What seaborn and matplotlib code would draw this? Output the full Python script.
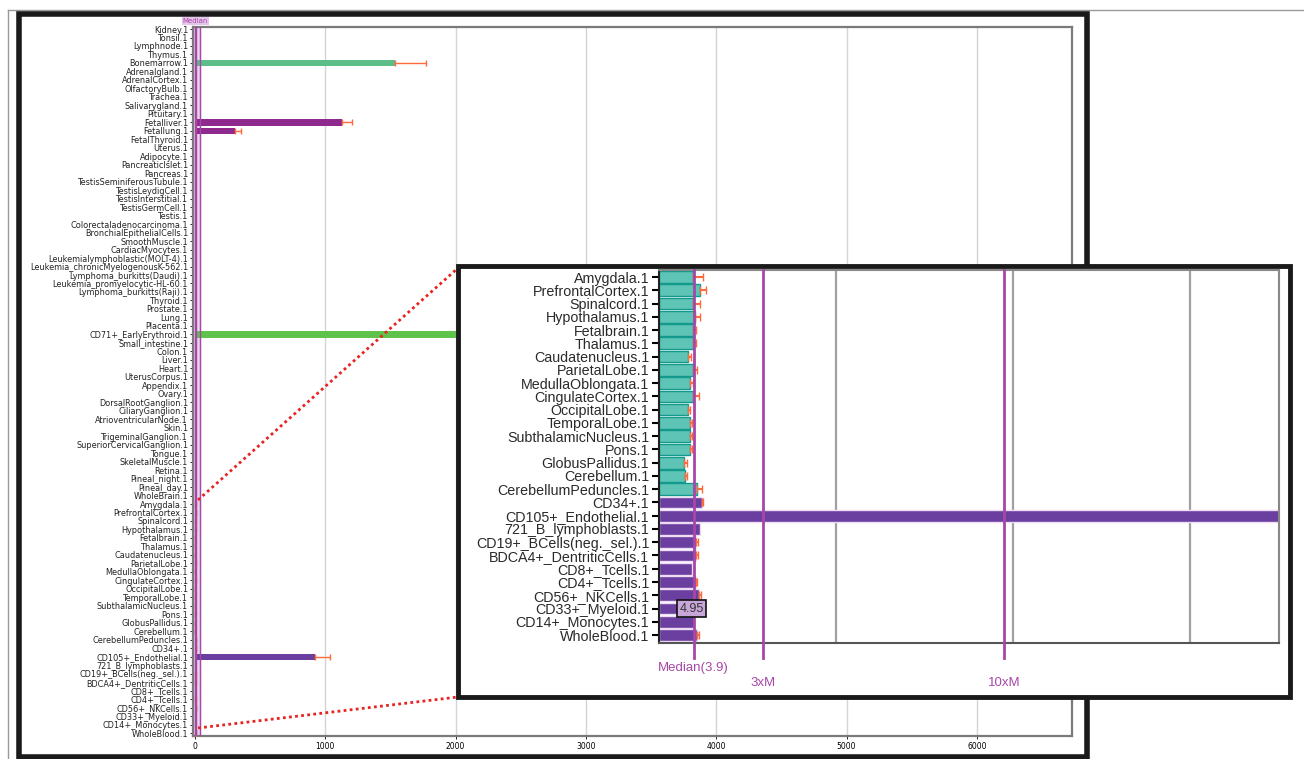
import numpy as np
import pandas as pd
import matplotlib
matplotlib.use("Agg")
import matplotlib.pyplot as plt
import matplotlib.transforms as mtransforms
from matplotlib.patches import Rectangle
from matplotlib.lines import Line2D
import seaborn as sns

# tissues, top to bottom
tissues = [
    "Kidney.1", "Tonsil.1", "Lymphnode.1", "Thymus.1", "Bonemarrow.1", "Adrenalgland.1",
    "AdrenalCortex.1", "OlfactoryBulb.1", "Trachea.1", "Salivarygland.1", "Pituitary.1",
    "Fetalliver.1", "Fetallung.1", "FetalThyroid.1", "Uterus.1", "Adipocyte.1",
    "PancreaticIslet.1", "Pancreas.1", "TestisSeminiferousTubule.1", "TestisLeydigCell.1",
    "TestisInterstitial.1", "TestisGermCell.1", "Testis.1", "Colorectaladenocarcinoma.1",
    "BronchialEpithelialCells.1", "SmoothMuscle.1", "CardiacMyocytes.1",
    "Leukemialymphoblastic(MOLT-4).1", "Leukemia_chronicMyelogenousK-562.1",
    "Lymphoma_burkitts(Daudi).1", "Leukemia_promyelocytic-HL-60.1", "Lymphoma_burkitts(Raji).1",
    "Thyroid.1", "Prostate.1", "Lung.1", "Placenta.1", "CD71+_EarlyErythroid.1",
    "Small_intestine.1", "Colon.1", "Liver.1", "Heart.1", "UterusCorpus.1", "Appendix.1",
    "Ovary.1", "DorsalRootGanglion.1", "CiliaryGanglion.1", "AtrioventricularNode.1", "Skin.1",
    "TrigeminalGanglion.1", "SuperiorCervicalGanglion.1", "Tongue.1", "SkeletalMuscle.1",
    "Retina.1", "Pineal_night.1", "Pineal_day.1", "WholeBrain.1",
    "Amygdala.1", "PrefrontalCortex.1", "Spinalcord.1", "Hypothalamus.1", "Fetalbrain.1",
    "Thalamus.1", "Caudatenucleus.1", "ParietalLobe.1", "MedullaOblongata.1",
    "CingulateCortex.1", "OccipitalLobe.1", "TemporalLobe.1", "SubthalamicNucleus.1",
    "Pons.1", "GlobusPallidus.1", "Cerebellum.1", "CerebellumPeduncles.1",
    "CD34+.1", "CD105+_Endothelial.1", "721_B_lymphoblasts.1", "CD19+_BCells(neg._sel.).1",
    "BDCA4+_DentriticCells.1", "CD8+_Tcells.1", "CD4+_Tcells.1", "CD56+_NKCells.1",
    "CD33+_Myeloid.1", "CD14+_Monocytes.1", "WholeBlood.1",
]

values = [
    3.6, 3.9, 3.7, 3.4, 1535, 3.5,
    3.3, 3.8, 3.6, 3.4, 3.7,
    1130, 305, 3.5, 3.6, 3.2,
    3.4, 3.3, 3.1, 3.5,
    3.3, 3.2, 3.6, 3.8,
    3.7, 3.5, 3.4,
    4.1, 4.3,
    3.9, 4.0, 3.8,
    3.5, 3.6, 3.7, 3.9, 4200,
    3.6, 3.5, 3.4, 3.3, 3.6, 3.7,
    3.5, 3.8, 3.6, 3.4, 3.5,
    3.7, 3.9, 3.6, 3.3,
    3.8, 3.5, 3.6, 3.9,
    3.88, 4.63, 3.88, 4.07, 3.80,
    3.80, 3.31, 3.88, 3.50,
    3.84, 3.24, 3.50, 3.50,
    3.50, 2.82, 2.94, 4.26,
    4.82, 920, 4.63, 4.18,
    4.18, 3.69, 4.18, 4.56,
    4.95, 4.00, 4.26,
]

errors = [0.0] * 56 + [
    1.1, 0.7, 0.8, 0.55, 0.35,
    0.35, 0.3, 0.4, 0.3,
    0.7, 0.3, 0.25, 0.2,
    0.25, 0.3, 0.25, 0.6,
    0.2, 120, 0.0, 0.2,
    0.2, 0.0, 0.15, 0.15,
    0.0, 0.0, 0.3,
]
errors[4] = 240
errors[11] = 75
errors[12] = 45

groups = (["other"] * 4 + ["marrow"] + ["other"] * 6 + ["fetal", "fetal"] + ["other"] * 23
          + ["erythroid"] + ["other"] * 19 + ["brain"] * 17 + ["blood"] * 11)

palette = {"other": "#9c9c9c", "marrow": "#5dbd88", "fetal": "#8e2a8e",
           "erythroid": "#5fc24a", "brain": "#5ec4b6", "blood": "#6a3fa0"}
edges = {"brain": "#139a8c", "blood": "#eedcf2"}

median = 3.9
thresholds = [median, 3 * median, 10 * median]
inset_start = tissues.index("Amygdala.1")

df = pd.DataFrame({"tissue": tissues, "value": values, "err": errors, "group": groups})

purple = "#a846a8"
err_col = "#ff6a3d"

fig = plt.figure(figsize=(13.04, 7.59), dpi=100)

# outer decorations
fig.add_artist(Line2D([8 / 1304, 1], [1 - 10 / 759] * 2, color="#999999", lw=1, zorder=0.5))
fig.add_artist(Line2D([8 / 1304] * 2, [0, 1 - 10 / 759], color="#999999", lw=1, zorder=0.5))
fig.add_artist(Rectangle((19 / 1304, 2 / 759), 1068 / 1304, 743 / 759, fill=False,
                         ec="#1a1a1a", lw=4, zorder=0.8))

# ---- main chart
ax = fig.add_axes([193 / 1304, 1 - 736 / 759, 879 / 1304, 709 / 759])
sns.barplot(data=df, x="value", y="tissue", hue="group", palette=palette, dodge=False,
            legend=False, width=0.75, errorbar=None, saturation=1, ax=ax, zorder=2)
pos = np.arange(len(tissues))
mask = df["err"].to_numpy() > 0
ax.errorbar(df["value"][mask], pos[mask], xerr=[np.zeros(mask.sum()), df["err"][mask]],
            fmt="none", ecolor=err_col, elinewidth=1, capsize=2, zorder=3)
ax.axvspan(-15, thresholds[-1], color="#d9b8e0", alpha=0.6, zorder=1)
for t in thresholds:
    ax.axvline(t, color=purple, lw=1, zorder=4)
ax.set_xlim(-15, 6730)
ax.set_ylim(83.35, -0.24)
ax.set_xticks(range(0, 7000, 1000))
ax.grid(axis="x", color="#d4d4d4", lw=1)
ax.set_axisbelow(True)
ax.set_xlabel("")
ax.set_ylabel("")
ax.tick_params(axis="y", labelsize=5.9, length=2.5, width=0.6, pad=1, labelcolor="#222222")
ax.tick_params(axis="x", labelsize=5.5, length=2, width=0.6, pad=2)
for s in ax.spines.values():
    s.set_color("#7a7a7a")
    s.set_linewidth(1.6)
ax.text(median, 1.004, "Median", transform=mtransforms.blended_transform_factory(ax.transData, ax.transAxes),
        ha="center", va="bottom", fontsize=5, color=purple,
        bbox=dict(boxstyle="square,pad=0.15", fc="#e3c6ea", ec="none"))

# ---- zoom lines
red = "#e8231f"
fig.add_artist(Line2D([198 / 1304, 458 / 1304], [1 - 500 / 759, 1 - 268 / 759],
                      color=red, ls=(0, (1, 1.2)), lw=2, zorder=1.2))
fig.add_artist(Line2D([198 / 1304, 458 / 1304], [1 - 728 / 759, 1 - 697 / 759],
                      color=red, ls=(0, (1, 1.2)), lw=2, zorder=1.2))

# ---- inset
fig.add_artist(Rectangle((458 / 1304, 1 - 697 / 759), 832 / 1304, 431 / 759,
                         fc="white", ec="#1a1a1a", lw=3.5, zorder=1.5))
sub = df.iloc[inset_start:].reset_index(drop=True)
ax2 = fig.add_axes([659 / 1304, 1 - 643 / 759, 620 / 1304, 373 / 759], zorder=3)
sns.barplot(data=sub, x="value", y="tissue", hue="group", palette=palette, dodge=False,
            legend=False, width=0.88, errorbar=None, saturation=1, ax=ax2, zorder=2)
for patch in ax2.patches:
    y_mid = patch.get_y() + patch.get_height() / 2
    g = sub["group"].iloc[int(round(y_mid))]
    patch.set_edgecolor(edges[g])
    patch.set_linewidth(1)
pos2 = np.arange(len(sub))
m2 = sub["err"].to_numpy() > 0
ax2.errorbar(sub["value"][m2], pos2[m2], xerr=[np.zeros(m2.sum()), sub["err"][m2]],
             fmt="none", ecolor=err_col, elinewidth=1.5, capsize=3, zorder=3)
ax2.set_xlim(0, 70)
ax2.set_ylim(27.6, -0.53)
ax2.set_xticks([0, 20, 40, 60])
ax2.set_xticklabels([])
ax2.tick_params(axis="x", length=0)
ax2.grid(axis="x", color="#a0a0a0", lw=1.6)
ax2.set_axisbelow(True)
ax2.set_xlabel("")
ax2.set_ylabel("")
ax2.tick_params(axis="y", length=5, width=1.5, pad=2, labelsize=10.3, labelcolor="#2a2a2a")
for lab in ax2.get_yticklabels():
    lab.set_fontfamily("Liberation Sans")
ax2.spines["left"].set_color("#222222")
ax2.spines["bottom"].set_color("#555555")
ax2.spines["top"].set_color("#888888")
ax2.spines["right"].set_color("#888888")
for s in ax2.spines.values():
    s.set_linewidth(1.5)

trans = mtransforms.blended_transform_factory(ax2.transData, ax2.transAxes)
for t in thresholds:
    ax2.plot([t, t], [1, -0.04], transform=trans, clip_on=False, color=purple, lw=2, zorder=4)
ax2.text(median, -0.067, "Median(3.9)", transform=trans, ha="center", va="center",
         fontsize=9.5, color=purple, family="Liberation Sans")
ax2.text(thresholds[1], -0.108, "3xM", transform=trans, ha="center", va="center",
         fontsize=9.5, color=purple, family="Liberation Sans")
ax2.text(thresholds[2], -0.108, "10xM", transform=trans, ha="center", va="center",
         fontsize=9.5, color=purple, family="Liberation Sans")
cd33 = list(sub["tissue"]).index("CD33+_Myeloid.1")
ax2.text(3.7, cd33, "4.95", ha="center", va="center", fontsize=9, color="#333333",
         family="Liberation Sans", zorder=6,
         bbox=dict(boxstyle="square,pad=0.2", fc="#c9a6d9", ec="#111111", lw=1.2))

fig.savefig("out.png", dpi=100)
